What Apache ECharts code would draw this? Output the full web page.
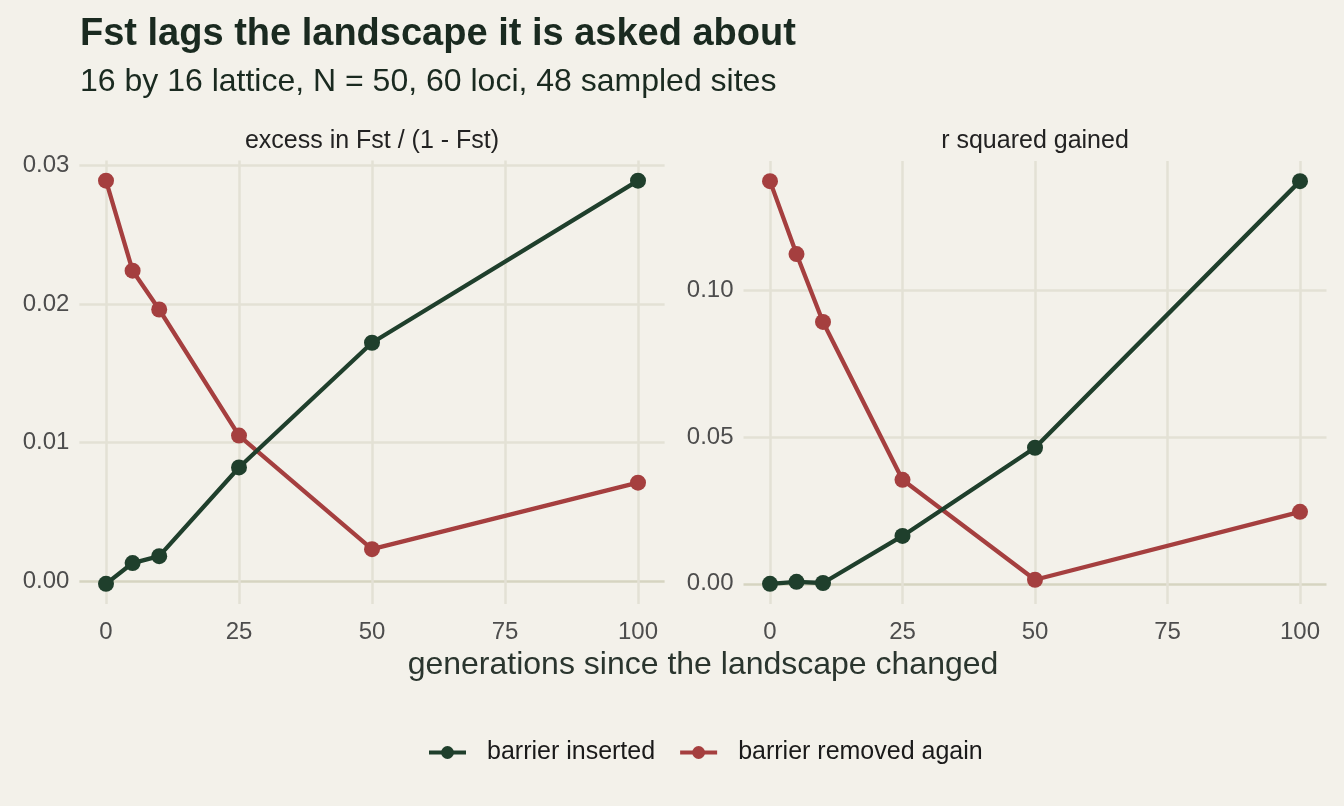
<!doctype html>
<html>
<head>
  <meta charset="utf-8">
  <title>Fst lags the landscape it is asked about</title>
  <script src="https://cdn.jsdelivr.net/npm/echarts@6/dist/echarts.min.js"></script>
  <style>
    html, body { margin: 0; padding: 0; background: #f3f1ea; }
    #chart { width: 1344px; height: 806px; }
  </style>
</head>
<body>
<div id="chart"></div>
<script type="text/javascript">
// generations since the landscape changed
var generations = [0, 5, 10, 25, 50, 100];

// excess in Fst / (1 - Fst)
var fstInserted = [-0.0002, 0.0013, 0.0018, 0.0082, 0.0172, 0.0289];
var fstRemoved  = [0.0289, 0.0224, 0.0196, 0.0105, 0.0023, 0.0071];

// r squared gained
var r2Inserted = [0.000, 0.0007, 0.0003, 0.0163, 0.0463, 0.137];
var r2Removed  = [0.137, 0.1122, 0.0891, 0.0354, 0.0014, 0.0245];

// tick labels
var xTicks = [0, 25, 50, 75, 100];
var fstTicks = [0, 0.01, 0.02, 0.03];
var r2Ticks = [0, 0.05, 0.10];

var seriesNames = ['barrier inserted', 'barrier removed again'];
var colors = ['#1f3f2c', '#a53f3f'];

function pairs(xs, ys) {
  return xs.map(function (x, i) { return [x, ys[i]]; });
}

// ggplot style 5% padding on each side
function padded(vals) {
  var lo = Math.min.apply(null, vals), hi = Math.max.apply(null, vals);
  var pad = (hi - lo) * 0.05;
  return [lo - pad, hi + pad];
}

var fstRange = padded(fstInserted.concat(fstRemoved));
var r2Range = padded(r2Inserted.concat(r2Removed));

var font = 'Liberation Sans, Arial, Helvetica, sans-serif';
var gridLight = '#e3e1d5';
var gridZero = '#d6d4c1';

function xAxis(idx) {
  return {
    type: 'value', gridIndex: idx, min: -5, max: 105,
    axisLine: {show: false},
    axisTick: {show: false, customValues: xTicks},
    axisLabel: {customValues: xTicks, color: '#4d4d4d', fontSize: 24, fontFamily: font, margin: 16},
    splitLine: {show: true, lineStyle: {color: gridLight, width: 2.5}}
  };
}

function yAxis(idx, range, ticks) {
  return {
    type: 'value', gridIndex: idx, min: range[0], max: range[1],
    axisLine: {show: false},
    axisTick: {show: false, customValues: ticks},
    axisLabel: {
      customValues: ticks, color: '#4d4d4d', fontSize: 24, fontFamily: font, margin: 10,
      formatter: function (v) { return v.toFixed(2); }
    },
    splitLine: {show: true, lineStyle: {color: [gridZero, gridLight, gridLight, gridLight], width: 2.5}}
  };
}

function line(name, data, idx, color) {
  return {
    name: name, type: 'line', xAxisIndex: idx, yAxisIndex: idx,
    data: data, symbol: 'circle', symbolSize: 16,
    lineStyle: {color: color, width: 4.3},
    itemStyle: {color: color},
    z: name === seriesNames[0] ? 3 : 2,
    animation: false
  };
}

var chart = echarts.init(document.getElementById('chart'));

var option = {
  backgroundColor: '#f3f1ea',
  animation: false,
  title: [
    {text: 'Fst lags the landscape it is asked about', left: 80, top: 16, padding: 0,
     textStyle: {fontSize: 38, fontWeight: 'bold', color: '#1a2a20', fontFamily: font}},
    {text: '16 by 16 lattice, N = 50, 60 loci, 48 sampled sites', left: 80, top: 66, padding: 0,
     textStyle: {fontSize: 32, fontWeight: 'normal', color: '#1a2a20', fontFamily: font}},
    {text: 'excess in Fst / (1 - Fst)', left: 372, top: 129, padding: 0, textAlign: 'center',
     textStyle: {fontSize: 25, fontWeight: 'normal', color: '#222', fontFamily: font}},
    {text: 'r squared gained', left: 1035, top: 129, padding: 0, textAlign: 'center',
     textStyle: {fontSize: 25, fontWeight: 'normal', color: '#222', fontFamily: font}},
    {text: 'generations since the landscape changed', left: 703, top: 649, padding: 0, textAlign: 'center',
     textStyle: {fontSize: 32, fontWeight: 'normal', color: '#2a352e', fontFamily: font}}
  ],
  legend: {
    data: seriesNames, top: 740, left: 427, padding: 0,
    itemWidth: 37, itemHeight: 16, itemGap: 23,
    lineStyle: {width: 4},
    textStyle: {fontSize: 25, color: '#1a1a1a', fontFamily: font, padding: [0, 0, 0, 16]}
  },
  grid: [
    {left: 79.4, top: 160.5, width: 585.2, height: 443.5},
    {left: 743.5, top: 161, width: 583, height: 443}
  ],
  xAxis: [xAxis(0), xAxis(1)],
  yAxis: [yAxis(0, fstRange, fstTicks), yAxis(1, r2Range, r2Ticks)],
  series: [
    line(seriesNames[0], pairs(generations, fstInserted), 0, colors[0]),
    line(seriesNames[1], pairs(generations, fstRemoved), 0, colors[1]),
    line(seriesNames[0], pairs(generations, r2Inserted), 1, colors[0]),
    line(seriesNames[1], pairs(generations, r2Removed), 1, colors[1])
  ]
};
chart.setOption(option);
</script>
</body>
</html>
